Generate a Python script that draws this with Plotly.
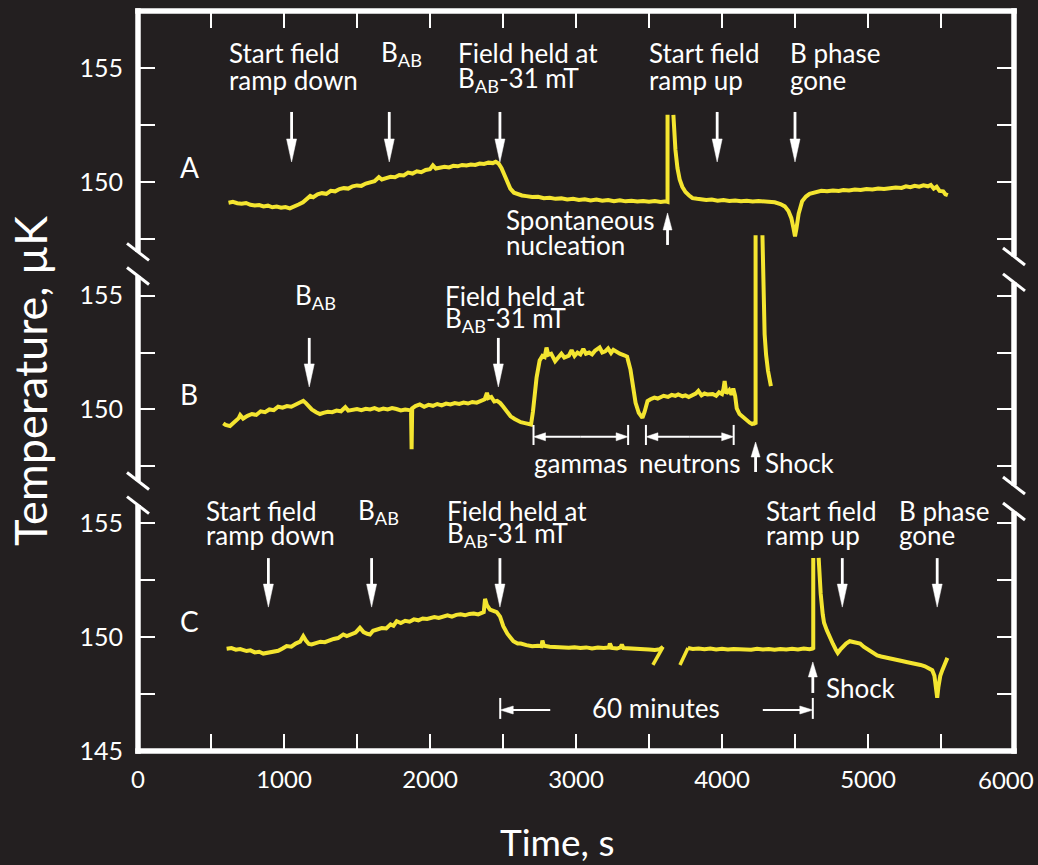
import plotly.graph_objects as go

# ---------------------------------------------------------------- data
# Three runs (A, B, C): temperature (µK) against time (s).
# None marks a stretch where the trace runs off scale.
a_time = [620, 650, 680, 710, 740, 770, 800, 830, 860, 890, 920, 950, 980, 1010, 1040, 1070,
          1100, 1130, 1160, 1180, 1200, 1230, 1260, 1290, 1320, 1350, 1380, 1410, 1440, 1470,
          1500, 1530, 1560, 1590, 1620, 1650, 1670, 1700, 1730, 1760, 1790, 1820, 1850, 1880,
          1910, 1940, 1970, 2000, 2020, 2040, 2070, 2100, 2130, 2160, 2190, 2220, 2250, 2280,
          2310, 2340, 2370, 2400, 2430, 2450, 2470, 2490, 2510, 2530, 2550, 2575, 2600, 2630,
          2660, 2700, 2740, 2780, 2820, 2860, 2900, 2940, 2980, 3020, 3060, 3100, 3140, 3180,
          3220, 3260, 3300, 3340, 3380, 3420, 3460, 3500, 3540, 3580, 3615, 3627, 3627, None,
          3667, 3672, 3681, 3695, 3710, 3728, 3750, 3775, 3798, 3830, 3860, 3892, 3930, 3970,
          4010, 4050, 4090, 4130, 4170, 4210, 4250, 4290, 4330, 4361, 4400, 4430, 4455, 4475,
          4490, 4500, 4510, 4525, 4549, 4575, 4600, 4643, 4680, 4720, 4760, 4800, 4831, 4870,
          4910, 4950, 4990, 5030, 5070, 5110, 5150, 5190, 5230, 5260, 5290, 5320, 5350, 5380,
          5410, 5430, 5450, 5470, 5490, 5515, 5530, 5547]
a_temp = [149.08, 149.12, 149.06, 149.04, 149.07, 148.99, 148.96, 148.98, 148.92, 148.95, 148.88,
          148.91, 148.86, 148.89, 148.83, 148.90, 149.00, 149.10, 149.25, 149.38, 149.32, 149.45,
          149.50, 149.47, 149.60, 149.58, 149.68, 149.72, 149.70, 149.80, 149.84, 149.82, 149.92,
          149.95, 150.02, 150.20, 150.10, 150.16, 150.22, 150.20, 150.30, 150.28, 150.40, 150.36,
          150.46, 150.42, 150.52, 150.55, 150.72, 150.58, 150.62, 150.66, 150.63, 150.70, 150.68,
          150.74, 150.72, 150.76, 150.74, 150.80, 150.78, 150.84, 150.82, 150.88, 150.80, 150.60,
          150.30, 149.95, 149.70, 149.52, 149.45, 149.40, 149.37, 149.33, 149.34, 149.28, 149.30,
          149.25, 149.27, 149.22, 149.25, 149.20, 149.23, 149.18, 149.22, 149.17, 149.20, 149.15,
          149.19, 149.14, 149.17, 149.13, 149.16, 149.12, 149.15, 149.11, 149.14, 149.12, 152.94,
          None,
          152.94, 152.30, 151.40, 150.60, 150.10, 149.78, 149.55, 149.40, 149.28, 149.25, 149.22,
          149.20, 149.22, 149.17, 149.20, 149.16, 149.18, 149.14, 149.17, 149.13, 149.15, 149.12,
          149.13, 149.10, 149.02, 148.92, 148.72, 148.40, 147.95, 147.60, 147.95, 148.60, 149.15,
          149.35, 149.47, 149.56, 149.60, 149.58, 149.62, 149.60, 149.64, 149.62, 149.66, 149.64,
          149.68, 149.66, 149.70, 149.68, 149.72, 149.75, 149.73, 149.80, 149.76, 149.82, 149.78,
          149.84, 149.80, 149.86, 149.70, 149.78, 149.60, 149.58, 149.45, 149.41]

b_time = [584, 600, 630, 660, 690, 700, 720, 750, 780, 810, 840, 870, 900, 930, 960, 990, 1020,
          1050, 1080, 1110, 1132, 1150, 1170, 1190, 1220, 1246, 1270, 1300, 1330, 1360, 1390,
          1420, 1440, 1470, 1500, 1530, 1560, 1590, 1620, 1650, 1680, 1710, 1740, 1770, 1800,
          1830, 1860, 1870, 1874, 1878, 1900, 1930, 1960, 1990, 2020, 2050, 2080, 2110, 2140,
          2170, 2200, 2230, 2260, 2290, 2320, 2350, 2375, 2390, 2400, 2420, 2440, 2460, 2481,
          2502, 2530, 2552, 2580, 2600, 2622, 2650, 2680, 2692, 2705, 2716, 2730, 2751, 2770,
          2785, 2798, 2810, 2830, 2857, 2880, 2900, 2920, 2951, 2970, 2990, 3010, 3030, 3050,
          3068, 3090, 3110, 3130, 3162, 3180, 3200, 3220, 3240, 3256, 3280, 3300, 3330, 3350,
          3373, 3390, 3408, 3430, 3455, 3470, 3490, 3510, 3537, 3560, 3580, 3600, 3630, 3655,
          3680, 3700, 3730, 3750, 3772, 3800, 3820, 3838, 3860, 3880, 3900, 3936, 3960, 3980,
          4000, 4010, 4018, 4030, 4050, 4065, 4077, 4090, 4101, 4120, 4148, 4170, 4190, 4206,
          4220, 4230, 4230, None, 4277, 4281, 4286, 4292, 4302, 4315, 4335]
b_temp = [149.39, 149.32, 149.27, 149.45, 149.62, 149.75, 149.60, 149.72, 149.80, 149.76, 149.92,
          149.88, 150.00, 149.97, 150.12, 150.08, 150.15, 150.12, 150.22, 150.30, 150.38, 150.28,
          150.15, 150.00, 149.88, 149.80, 149.85, 149.90, 149.88, 149.95, 149.92, 150.10, 149.95,
          149.98, 150.02, 149.97, 150.03, 150.00, 150.06, 149.98, 150.04, 150.00, 150.06, 150.02,
          149.96, 150.00, 149.95, 149.96, 148.25, 150.05, 150.15, 150.22, 150.12, 150.20, 150.16,
          150.24, 150.18, 150.26, 150.22, 150.28, 150.24, 150.30, 150.26, 150.33, 150.30, 150.38,
          150.45, 150.73, 150.50, 150.55, 150.35, 150.38, 150.28, 150.12, 149.85, 149.70, 149.58,
          149.50, 149.44, 149.40, 149.36, 149.34, 149.90, 150.58, 151.40, 152.15, 152.35, 152.30,
          152.72, 152.40, 152.45, 152.12, 152.30, 152.45, 152.28, 152.36, 152.60, 152.35, 152.50,
          152.42, 152.66, 152.45, 152.50, 152.42, 152.58, 152.72, 152.50, 152.55, 152.68, 152.48,
          152.62, 152.50, 152.45, 152.38, 152.32, 151.75, 150.90, 150.29, 149.85, 149.63, 149.90,
          150.37, 150.45, 150.52, 150.48, 150.56, 150.60, 150.55, 150.64, 150.60, 150.66, 150.58,
          150.62, 150.55, 150.65, 150.70, 150.82, 150.62, 150.70, 150.66, 150.68, 150.60, 150.75,
          150.68, 150.90, 151.25, 150.70, 150.85, 150.65, 150.92, 150.60, 150.05, 149.80, 149.63,
          149.50, 149.42, 149.36, 149.40, 149.35, 157.65, None, 157.65, 156.00, 154.50, 153.30,
          152.40, 151.70, 151.02]

c_time = [607, 640, 670, 700, 744, 770, 800, 830, 858, 890, 927, 960, 990, 1018, 1050, 1080, 1110,
          1132, 1150, 1170, 1189, 1220, 1250, 1280, 1315, 1340, 1370, 1406, 1430, 1460, 1490,
          1520, 1545, 1570, 1589, 1610, 1640, 1670, 1700, 1730, 1750, 1772, 1800, 1830, 1860,
          1890, 1920, 1950, 1980, 2000, 2030, 2060, 2090, 2120, 2150, 2180, 2210, 2240, 2270,
          2300, 2330, 2354, 2368, 2377, 2390, 2411, 2430, 2457, 2480, 2502, 2530, 2571, 2600,
          2622, 2660, 2700, 2740, 2763, 2770, 2780, 2820, 2860, 2900, 2951, 2990, 3030, 3070,
          3110, 3150, 3190, 3225, 3232, 3245, 3280, 3305, 3314, 3325, 3360, 3400, 3420, 3460,
          3500, 3540, 3575, 3596, None,
          3767, 3800, 3840, 3880, 3920, 3960, 4000, 4040, 4080, 4124, 4160, 4200, 4240, 4280,
          4320, 4360, 4400, 4440, 4480, 4520, 4560, 4600, 4620, 4625, 4625, None, 4662, 4668,
          4676, 4690, 4699, 4718, 4734, 4760, 4780, 4793, 4810, 4828, 4850, 4875, 4900, 4925,
          4946, 4970, 5000, 5030, 5063, 5090, 5120, 5150, 5180, 5210, 5240, 5270, 5298, 5330,
          5360, 5390, 5415, 5440, 5455, 5466, 5474, 5482, 5495, 5509, 5525, 5535, 5544]
c_temp = [149.49, 149.52, 149.45, 149.48, 149.39, 149.42, 149.33, 149.36, 149.28, 149.31, 149.34,
          149.40, 149.50, 149.61, 149.58, 149.72, 149.80, 150.04, 149.85, 149.70, 149.68, 149.76,
          149.80, 149.78, 149.87, 149.92, 149.96, 150.12, 150.05, 150.14, 150.20, 150.41, 150.22,
          150.15, 150.12, 150.28, 150.32, 150.40, 150.38, 150.56, 150.50, 150.70, 150.62, 150.72,
          150.68, 150.78, 150.74, 150.82, 150.80, 150.85, 150.88, 150.84, 150.92, 150.96, 150.90,
          150.98, 151.00, 150.96, 151.02, 151.04, 151.00, 151.07, 151.10, 151.68, 151.40, 151.21,
          151.15, 151.10, 150.90, 150.48, 150.15, 149.82, 149.72, 149.72, 149.65, 149.60, 149.62,
          149.60, 149.85, 149.62, 149.58, 149.56, 149.58, 149.53, 149.56, 149.52, 149.55, 149.50,
          149.54, 149.52, 149.55, 149.72, 149.53, 149.50, 149.55, 149.68, 149.52, 149.50, 149.52,
          149.50, 149.48, 149.46, 149.44, 149.47, 149.57, None,
          149.52, 149.48, 149.50, 149.47, 149.50, 149.46, 149.49, 149.46, 149.48, 149.46, 149.48,
          149.45, 149.49, 149.46, 149.48, 149.45, 149.48, 149.46, 149.49, 149.46, 149.50, 149.47,
          149.50, 149.52, 153.48, None, 153.48, 152.50, 151.90, 151.00, 150.63, 150.30, 150.04,
          149.70, 149.45, 149.31, 149.45, 149.58, 149.72, 149.82, 149.80, 149.76, 149.72, 149.58,
          149.45, 149.30, 149.20, 149.15, 149.10, 149.05, 149.02, 148.98, 148.94, 148.90, 148.87,
          148.82, 148.78, 148.72, 148.65, 148.55, 148.30, 147.80, 147.34, 147.80, 148.30, 148.55,
          148.75, 148.95, 149.09]

# slanted strokes marking the omitted time stretch in run C
c_gap_time = [[3596, 3527], [3712, 3767]]
c_gap_temp = [[149.57, 148.78], [148.78, 149.52]]

# vertical position of each run on the shared axis
panel_offset = {"A": 20.0, "B": 10.0, "C": 0.0}

x_tick_vals = [0, 1000, 2000, 3000, 4000, 5000, 6000]
x_tick_text = ["0", "1000", "2000", "3000", "4000", "5000", "6000"]
x_minor_vals = [500, 1500, 2500, 3500, 4500, 5500]
y_tick_vals = [145, 147.5, 150, 152.5, 155, 157.5, 160, 162.5, 165, 167.5, 170, 172.5, 175]
y_tick_text = ["145", "", "150", "", "155", "", "150", "", "155", "", "150", "", "155"]

# ---------------------------------------------------------------- layout geometry
W, H = 1038, 865
ML, MR, MT, MB = 138, 24, 11, 114
X_RANGE = [0, 6000]
Y_RANGE = [145, 177.5]
PW, PH = W - ML - MR, H - MT - MB
KX = PW / (X_RANGE[1] - X_RANGE[0])   # px per second
KY = PH / (Y_RANGE[1] - Y_RANGE[0])   # px per µK

BG = "#231f20"
YEL = "#f4e530"
WHITE = "#ffffff"
FONT = "Lato, 'Open Sans', sans-serif"
LINE_W = 4


def shift(vals, off):
    return [None if v is None else v + off for v in vals]


fig = go.Figure()
for t, v, p in [(a_time, a_temp, "A"), (b_time, b_temp, "B"), (c_time, c_temp, "C")]:
    fig.add_trace(go.Scatter(x=t, y=shift(v, panel_offset[p]), mode="lines",
                             line=dict(color=YEL, width=LINE_W), connectgaps=False,
                             hoverinfo="skip", showlegend=False))
for t, v in zip(c_gap_time, c_gap_temp):
    fig.add_trace(go.Scatter(x=t, y=shift(v, panel_offset["C"]), mode="lines",
                             line=dict(color=YEL, width=3.5), hoverinfo="skip",
                             showlegend=False))
# empty trace so the top (tick-only) axis is laid out
fig.add_trace(go.Scatter(x=[None], y=[None], xaxis="x2", mode="lines",
                         hoverinfo="skip", showlegend=False))

shapes = []
annotations = []


def px_to_paper_y(py):
    return (MT + PH - py) / PH


def val_to_paper_y(v):
    return (v - Y_RANGE[0]) / (Y_RANGE[1] - Y_RANGE[0])


# frame with gaps where the axis is broken
LW = 5.5
ext_x = (LW / 2) / PW
ext_y = (LW / 2) / PH
frame = dict(type="line", xref="paper", yref="paper", line=dict(color=WHITE, width=LW),
             layer="above")
shapes.append({**frame, "x0": -ext_x, "x1": 1 + ext_x, "y0": 1, "y1": 1})
shapes.append({**frame, "x0": -ext_x, "x1": 1 + ext_x, "y0": 0, "y1": 0})

breaks_left = [(166.92, 165.86), (156.86, 155.80)]
breaks_right = [(166.72, 165.58), (156.66, 155.52)]
for xp, brk in [(0, breaks_left), (1, breaks_right)]:
    ends = [1 + ext_y] + [val_to_paper_y(e) for pair in brk for e in pair] + [-ext_y]
    for i in range(0, len(ends), 2):
        shapes.append({**frame, "x0": xp, "x1": xp, "y0": ends[i], "y1": ends[i + 1]})
    # slanted break strokes crossing the axis ends
    for pair in brk:
        for v in pair:
            yc = val_to_paper_y(v)
            shapes.append(dict(type="line", xref="paper", yref="paper",
                               x0=xp - 11 / PW, x1=xp + 11 / PW,
                               y0=yc + 8.5 / PH, y1=yc - 8.5 / PH,
                               line=dict(color=WHITE, width=3), layer="above"))


def arrow(tip_t, tip_y, direction, length, head_len, head_half, width):
    dx, dy = {"down": (0, -1), "up": (0, 1), "left": (-1, 0), "right": (1, 0)}[direction]
    px, py = -dy, dx

    def pt(along, across):
        return (tip_t + (dx * along + px * across) / KX,
                tip_y + (dy * along + py * across) / KY)

    tail = pt(-length, 0)
    base = pt(-head_len + 1, 0)
    shapes.append(dict(type="line", xref="x", yref="y", x0=tail[0], y0=tail[1],
                       x1=base[0], y1=base[1], line=dict(color=WHITE, width=width)))
    b1 = pt(-head_len, head_half)
    b2 = pt(-head_len, -head_half)
    path = f"M {tip_t},{tip_y} L {b1[0]},{b1[1]} L {b2[0]},{b2[1]} Z"
    shapes.append(dict(type="path", xref="x", yref="y", path=path,
                       fillcolor=WHITE, line=dict(color=WHITE, width=0.5)))


def span(t0, t1, y, bar_lo, bar_hi):
    half = (t1 - t0) / 2 * KX
    arrow(t0, y, "left", half, 12, 4, 2)
    arrow(t1, y, "right", half, 12, 4, 2)
    for t in (t0, t1):
        shapes.append(dict(type="line", xref="x", yref="y", x0=t, x1=t, y0=bar_lo, y1=bar_hi,
                           line=dict(color=WHITE, width=2)))


def text(t, y, s, size=26, anchor="left"):
    annotations.append(dict(x=t, y=y, xref="x", yref="y", text=s, showarrow=False,
                            xanchor=anchor, yanchor="middle", align="left",
                            font=dict(family=FONT, size=size, color=WHITE)))


BAB = "B<sub>AB</sub>"
HELD = "B<sub>AB</sub>-31 mT"

# run A
oA = panel_offset["A"]
text(356, 150.67 + oA, "A", size=28, anchor="center")
for t, l1, l2 in [(610, "Start field", "ramp down"), (1651, BAB, None),
                  (2178, "Field held at", HELD), (3486, "Start field", "ramp up"),
                  (4452, "B phase", "gone")]:
    text(t, 155.65 + oA, l1)
    if l2:
        text(t, 154.47 + oA, l2)
for t in [1052, 1721, 2479, 3967, 4500]:
    arrow(t, 150.87 + oA, "down", 50, 23, 5, 2.8)
text(2507, 148.32 + oA, "Spontaneous")
text(2507, 147.22 + oA, "nucleation")
arrow(3627, 148.63 + oA, "up", 32, 17, 4.5, 2.8)

# run B
oB = panel_offset["B"]
text(346, 150.68 + oB, "B", size=28, anchor="center")
text(1062, 154.98 + oB, BAB)
text(2089, 154.98 + oB, "Field held at")
text(2089, 153.93 + oB, HELD)
for t in [1173, 2468]:
    arrow(t, 150.99 + oB, "down", 49, 23, 5, 2.8)
span(2709, 3357, 148.80 + oB, 148.44 + oB, 149.32 + oB)
span(3479, 4080, 148.80 + oB, 148.44 + oB, 149.32 + oB)
text(3033, 147.65 + oB, "gammas", anchor="center")
text(3784, 147.65 + oB, "neutrons", anchor="center")
text(4284, 147.65 + oB, "Shock")
arrow(4230, 148.57 + oB, "up", 30, 15, 4.5, 2.8)

# run C
oC = panel_offset["C"]
text(356, 150.71 + oC, "C", size=28, anchor="center")
for t, l1, l2 in [(452, "Start field", "ramp down"), (1493, BAB, None),
                  (2103, "Field held at", HELD), (4288, "Start field", "ramp up"),
                  (5199, "B phase", "gone")]:
    text(t, 155.54 + oC, l1)
    if l2:
        text(t, 154.49 + oC, l2)
for t in [893, 1600, 2479, 4824, 5474]:
    arrow(t, 151.32 + oC, "down", 49, 23, 5, 2.8)
text(4699, 147.77 + oC, "Shock")
arrow(4622, 148.91 + oC, "up", 31, 15, 4.5, 2.8)
text(3549, 146.89 + oC, "60 minutes", anchor="center")
arrow(2481, 146.80 + oC, "left", 50, 13, 4, 2)
arrow(4622, 146.80 + oC, "right", 50, 13, 4, 2)
for t in (2481, 4622):
    shapes.append(dict(type="line", xref="x", yref="y", x0=t, x1=t, y0=146.41, y1=147.33,
                       line=dict(color=WHITE, width=2)))

# axis titles
annotations.append(dict(x=(557 - ML) / PW, y=px_to_paper_y(841), xref="paper", yref="paper",
                        text="Time, s", showarrow=False, xanchor="center", yanchor="middle",
                        font=dict(family=FONT, size=37, color=WHITE)))
annotations.append(dict(x=(30 - ML) / PW, y=px_to_paper_y(381), xref="paper", yref="paper",
                        text="Temperature, µK", showarrow=False, textangle=-90,
                        xanchor="center", yanchor="middle",
                        font=dict(family=FONT, size=45, color=WHITE)))

# the last time label sits flush with the page edge, so it is right-anchored
tick_font = dict(family=FONT, size=24, color=WHITE)
shown_x_text = x_tick_text[:-1] + [""]
annotations.append(dict(x=(1036 - ML) / PW, y=0, xref="paper", yref="paper",
                        text=x_tick_text[-1], showarrow=False, xanchor="right", yanchor="top",
                        yshift=-12, font=tick_font))

all_x_ticks = sorted(x_tick_vals + x_minor_vals)
fig.update_layout(
    width=W, height=H,
    margin=dict(l=ML, r=MR, t=MT, b=MB, pad=0, autoexpand=False),
    paper_bgcolor=BG, plot_bgcolor=BG,
    shapes=shapes, annotations=annotations,
    xaxis=dict(range=X_RANGE, tickvals=x_tick_vals, ticktext=shown_x_text,
               ticks="inside", ticklen=17, tickwidth=2, tickcolor=WHITE, automargin=False,
               minor=dict(tickvals=x_minor_vals, ticks="inside", ticklen=17, tickwidth=2,
                          tickcolor=WHITE),
               showline=False, showgrid=False, zeroline=False,
               tickfont=tick_font, ticklabelstandoff=12),
    xaxis2=dict(range=X_RANGE, overlaying="x", side="top", anchor="y", automargin=False,
                tickvals=all_x_ticks, showticklabels=False,
                ticks="inside", ticklen=17, tickwidth=2, tickcolor=WHITE,
                showline=False, showgrid=False, zeroline=False),
    yaxis=dict(range=Y_RANGE, tickvals=y_tick_vals, ticktext=y_tick_text, automargin=False,
               ticks="inside", ticklen=17, tickwidth=2, tickcolor=WHITE, mirror="ticks",
               showline=False, showgrid=False, zeroline=False,
               tickfont=dict(family=FONT, size=25, color=WHITE), ticklabelstandoff=14),
)

fig.write_html("out.html")
